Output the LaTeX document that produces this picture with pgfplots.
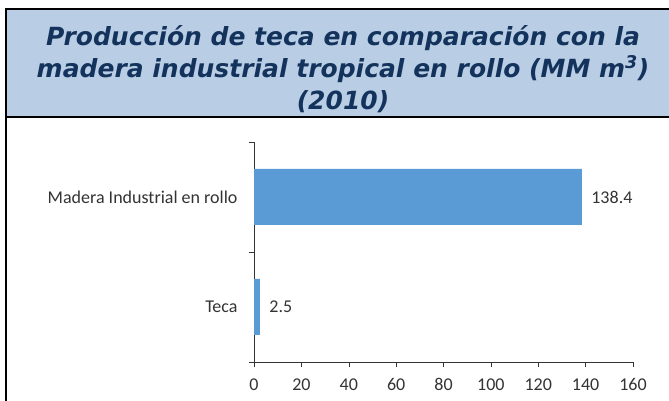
\documentclass[border=0pt]{standalone}
\usepackage{pgfplots}
\pgfplotsset{compat=1.18}
\usepackage{fontspec}
\setmainfont{Carlito}
\newfontfamily\titlefont{DejaVu Sans}
\definecolor{titlebg}{HTML}{B9CDE5}
\definecolor{titlefg}{HTML}{14335C}
\definecolor{barblue}{HTML}{5B9BD5}
\begin{document}
\begin{tikzpicture}[x=1pt,y=1pt]
\path[use as bounding box] (0,0) rectangle (669,401);
\fill[titlebg] (6,284) rectangle (669,392);
\draw[line width=2.5pt] (669,392) -- (6,392) -- (6,0);
\draw[line width=2.5pt] (6,284) -- (669,284);
\node[align=center, font=\titlefont\bfseries\itshape\fontsize{25}{32}\selectfont, text=titlefg] at (343,332)
  {Producción de teca en comparación con la\\madera industrial tropical en rollo (MM m\textsuperscript{3})\\(2010)};
\begin{axis}[
  at={(254pt,39pt)}, anchor=south west,
  scale only axis, width=379pt, height=220pt,
  xbar, bar width=56pt,
  xmin=0, xmax=160, ymin=-0.5, ymax=1.5,
  xtick={0,20,...,160},
  xticklabel={\pgfmathprintnumber{\tick}},
  ytick={0,1}, yticklabels={Teca, Madera Industrial en rollo},
  minor ytick={-0.5,0.5,1.5},
  axis x line*=bottom, axis y line*=left,
  axis line style={-, black!80},
  tick align=outside,
  major tick length=5pt, minor tick length=5pt,
  y tick style={draw=none},
  every minor tick/.style={draw=black!80, thin},
  x tick style={black!80, thin},
  minor y tick style={draw=black!80},
  ticklabel style={font=\fontsize{18}{21}\selectfont, text=black!80},
  /pgf/number format/assume math mode=true,
  yticklabel style={xshift=-8pt},
  xticklabel style={yshift=-8pt},
  nodes near coords,
  nodes near coords style={font=\fontsize{18}{21}\selectfont, text=black!80, anchor=west, xshift=6pt},
  point meta=explicit symbolic,
]
\addplot[fill=barblue, draw=none] coordinates {(2.5,0) [2.5] (138.4,1) [138.4]};
\end{axis}
\end{tikzpicture}
\end{document}
